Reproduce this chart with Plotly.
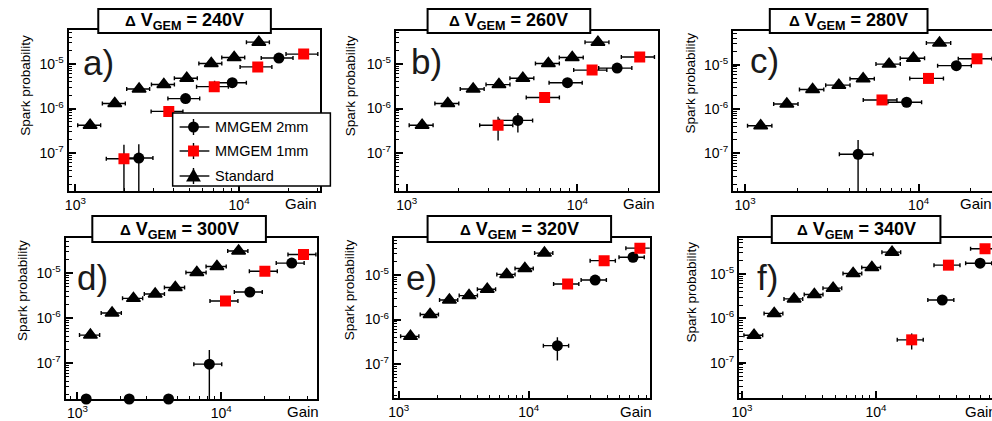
import plotly.graph_objects as go

W, H = 992, 421
FONT = "Liberation Sans, Arial, Helvetica, sans-serif"

# ---------------- data ----------------
PANEL_DV = [240, 260, 280, 300, 320, 340]
PANEL_TAG = ["a)", "b)", "c)", "d)", "e)", "f)"]
SERIES_NAMES = ["MMGEM 2mm", "MMGEM 1mm", "Standard"]

# Standard triple GEM (same in every panel)
STD_GAIN = [1230, 1740, 2450, 3470, 4790, 6760, 9330, 13200]
STD_PROB = [4.2e-7, 1.3e-6, 2.75e-6, 3.45e-6, 4.8e-6, 1.03e-5, 1.4e-5, 3.1e-5]
STD_ERR = [0.4e-7, 0.1e-6, 0.2e-6, 0.25e-6, 0.35e-6, 0.8e-6, 1.1e-6, 2.5e-6]

# a) 240 V
A_2MM_GAIN = [2440, 4710, 9080, 17500]
A_2MM_PROB = [7.7e-8, 1.67e-6, 3.8e-6, 1.36e-5]
A_2MM_ERR = [8.0e-8, 0.2e-6, 0.4e-6, 1.2e-6]
A_1MM_GAIN = [1980, 3720, 7050, 13000, 24800]
A_1MM_PROB = [7.4e-8, 8.6e-7, 3.1e-6, 8.6e-6, 1.67e-5]
A_1MM_ERR = [8.0e-8, 2.2e-7, 0.4e-6, 0.9e-6, 1.5e-6]

# b) 260 V
B_2MM_GAIN = [4480, 8750, 17100]
B_2MM_PROB = [5.4e-7, 3.8e-6, 8.1e-6]
B_2MM_ERR = [2.5e-7, 0.4e-6, 0.8e-6]
B_1MM_GAIN = [3430, 6430, 12200, 23200]
B_1MM_PROB = [4.2e-7, 1.77e-6, 7.3e-6, 1.44e-5]
B_1MM_ERR = [2.3e-7, 0.35e-6, 0.8e-6, 1.3e-6]

# c) 280 V
C_2MM_GAIN = [4480, 8530, 16500]
C_2MM_PROB = [9.5e-8, 1.42e-6, 9.5e-6]
C_2MM_ERR = [1.05e-7, 0.3e-6, 0.9e-6]
C_1MM_GAIN = [6150, 11400, 21700]
C_1MM_PROB = [1.6e-6, 4.9e-6, 1.36e-5]
C_1MM_ERR = [0.3e-6, 0.6e-6, 1.3e-6]

# d) 300 V
D_2MM_GAIN = [8260, 15800, 30900]
D_2MM_PROB = [9.5e-8, 3.8e-6, 1.67e-5]
D_2MM_ERR = [1.0e-7, 0.4e-6, 1.5e-6]
D_2MM_ZERO_GAIN = [1150, 2290, 4300]          # no sparks: drawn on the axis floor
D_2MM_ZERO_PROB = [1.6e-8, 1.6e-8, 1.6e-8]
D_1MM_GAIN = [10700, 20100, 37300]
D_1MM_PROB = [2.4e-6, 1.1e-5, 2.6e-5]
D_1MM_ERR = [0.4e-6, 1.0e-6, 2.2e-6]

# e) 320 V
E_2MM_GAIN = [16600, 32400, 63400]
E_2MM_PROB = [2.6e-7, 7.7e-6, 2.5e-5]
E_2MM_ERR = [1.4e-7, 0.8e-6, 2.2e-6]
E_1MM_GAIN = [19900, 38000, 71600]
E_1MM_PROB = [6.3e-6, 2.1e-5, 4.0e-5]
E_1MM_ERR = [0.8e-6, 2.0e-6, 3.5e-6]

# f) 340 V
F_2MM_GAIN = [31300, 60000]
F_2MM_PROB = [2.6e-6, 1.75e-5]
F_2MM_ERR = [0.4e-6, 1.5e-6]
F_1MM_GAIN = [18500, 34800, 65300]
F_1MM_PROB = [3.3e-7, 1.58e-5, 3.7e-5]
F_1MM_ERR = [1.3e-7, 1.5e-6, 3.2e-6]

PANEL_DATA = [
    (A_2MM_GAIN, A_2MM_PROB, A_2MM_ERR, A_1MM_GAIN, A_1MM_PROB, A_1MM_ERR),
    (B_2MM_GAIN, B_2MM_PROB, B_2MM_ERR, B_1MM_GAIN, B_1MM_PROB, B_1MM_ERR),
    (C_2MM_GAIN, C_2MM_PROB, C_2MM_ERR, C_1MM_GAIN, C_1MM_PROB, C_1MM_ERR),
    (D_2MM_GAIN, D_2MM_PROB, D_2MM_ERR, D_1MM_GAIN, D_1MM_PROB, D_1MM_ERR),
    (E_2MM_GAIN, E_2MM_PROB, E_2MM_ERR, E_1MM_GAIN, E_1MM_PROB, E_1MM_ERR),
    (F_2MM_GAIN, F_2MM_PROB, F_2MM_ERR, F_1MM_GAIN, F_1MM_PROB, F_1MM_ERR),
]

GAIN_REL_ERR_STD = 16   # percent
GAIN_REL_ERR_MM = 22    # percent

X_TICKS = [1e3, 1e4]
X_TICKTEXT = ["10<sup>3</sup>", "10<sup>4</sup>"]
Y_TICKS = [1e-7, 1e-6, 1e-5]
Y_TICKTEXT = ["10<sup>-7</sup>", "10<sup>-6</sup>", "10<sup>-5</sup>"]

# ---------------- geometry (pixels) ----------------
GEOM = [
    dict(frame=(61, 315, 30, 191), xr=(2.958, 4.497), yr=(-7.854, -4.236),
         tbox=(91, 265, 9, 33), tag=(91, 62), ytit=(17, 85), gain=(295, 203), right=True),
    dict(frame=(391, 655, 31, 191), xr=(2.936, 4.471), yr=(-7.854, -4.258),
         tbox=(423, 587, 9, 33), tag=(422, 61), ytit=(345, 86), gain=(636, 203), right=True),
    dict(frame=(731, 992, 31, 191), xr=(2.931, 4.423), yr=(-7.85, -4.24),
         tbox=(768, 927, 9, 33), tag=(763, 60), ytit=(688, 83), gain=(976, 203), right=False),
    dict(frame=(58, 312, 238, 399), xr=(2.917, 4.669), yr=(-7.796, -4.22),
         tbox=(85, 260, 216, 242), tag=(85, 277), ytit=(14, 290), gain=(297, 411), right=True),
    dict(frame=(389, 647, 238, 398), xr=(2.962, 4.931), yr=(-7.76, -4.17),
         tbox=(423, 608, 216, 242), tag=(417, 277), ytit=(344, 290), gain=(633, 411), right=True),
    dict(frame=(737, 992, 238, 398), xr=(2.978, 4.867), yr=(-7.79, -4.19),
         tbox=(770, 940, 216, 243), tag=(766, 277), ytit=(689, 292), gain=(981, 411), right=False),
]


def px(x):
    return x / W


def py(y):
    return 1 - y / H


fig = go.Figure()
shapes = []
annotations = []

ebar_kw = dict(color="black", thickness=1.4)

for i, (g, dv, tag, data) in enumerate(zip(GEOM, PANEL_DV, PANEL_TAG, PANEL_DATA), start=1):
    xa = "x" if i == 1 else f"x{i}"
    ya = "y" if i == 1 else f"y{i}"
    g2, p2, e2, g1, p1, e1 = data

    fig.add_trace(go.Scatter(
        x=STD_GAIN, y=STD_PROB, mode="markers", name=SERIES_NAMES[2], showlegend=False,
        xaxis=xa, yaxis=ya,
        marker=dict(symbol="triangle-up", size=12, color="black",
                    line=dict(color="black", width=1.5)),
        error_x=dict(type="percent", value=GAIN_REL_ERR_STD, width=2, **ebar_kw),
        error_y=dict(type="data", array=STD_ERR, width=0, **ebar_kw)))
    fig.add_trace(go.Scatter(
        x=g2, y=p2, mode="markers", name=SERIES_NAMES[0], showlegend=False,
        xaxis=xa, yaxis=ya,
        marker=dict(symbol="circle", size=11, color="black"),
        error_x=dict(type="percent", value=GAIN_REL_ERR_MM, width=2, **ebar_kw),
        error_y=dict(type="data", array=e2, width=0, **ebar_kw)))
    if i == 4:
        fig.add_trace(go.Scatter(
            x=D_2MM_ZERO_GAIN, y=D_2MM_ZERO_PROB, mode="markers", name=SERIES_NAMES[0],
            showlegend=False, xaxis=xa, yaxis=ya, cliponaxis=False,
            marker=dict(symbol="circle", size=11, color="black")))
    fig.add_trace(go.Scatter(
        x=g1, y=p1, mode="markers", name=SERIES_NAMES[1], showlegend=False,
        xaxis=xa, yaxis=ya,
        marker=dict(symbol="square", size=11, color="#ff0000"),
        error_x=dict(type="percent", value=GAIN_REL_ERR_MM, width=2, **ebar_kw),
        error_y=dict(type="data", array=e1, width=0, **ebar_kw)))

    fx0, fx1, fyt, fyb = g["frame"]
    xminor = [k * 10 ** e for e in (2, 3, 4) for k in range(2, 10)]
    yminor = [k * 10.0 ** e for e in (-8, -7, -6, -5) for k in range(2, 10)]
    axis_common = dict(type="log", showgrid=False, zeroline=False, showline=True,
                       linecolor="black", linewidth=2, ticks="inside", ticklen=7,
                       tickwidth=1.5, tickcolor="black",
                       tickfont=dict(family=FONT, size=14, color="black"))
    fig.layout[f"xaxis{'' if i == 1 else i}"] = dict(
        axis_common, domain=[px(fx0), px(fx1)], range=list(g["xr"]), anchor=ya,
        mirror=True, tickmode="array", tickvals=X_TICKS, ticktext=X_TICKTEXT,
        minor=dict(tickvals=xminor, ticks="inside", ticklen=3.5, tickcolor="black", tickwidth=1.2))
    fig.layout[f"yaxis{'' if i == 1 else i}"] = dict(
        axis_common, domain=[py(fyb), py(fyt)], range=list(g["yr"]), anchor=xa,
        mirror=g["right"], tickmode="array", tickvals=Y_TICKS, ticktext=Y_TICKTEXT,
        minor=dict(tickvals=yminor, ticks="inside", ticklen=3.5, tickcolor="black", tickwidth=1.2))

    # title box
    tx0, tx1, ty0, ty1 = g["tbox"]
    shapes.append(dict(type="rect", xref="paper", yref="paper",
                       x0=px(tx0), x1=px(tx1), y0=py(ty1), y1=py(ty0),
                       fillcolor="white", line=dict(color="black", width=2)))
    annotations.append(dict(xref="paper", yref="paper", x=px((tx0 + tx1) / 2),
                            y=py((ty0 + ty1) / 2 + 1), xanchor="center", yanchor="middle",
                            showarrow=False,
                            text=f"<b><span style='font-size:15px'>\u0394</span> V<sub>GEM</sub> = {dv}V</b>",
                            font=dict(family=FONT, size=18, color="black")))
    # panel tag
    annotations.append(dict(xref="paper", yref="paper", x=px(g["tag"][0]), y=py(g["tag"][1]),
                            xanchor="center", yanchor="middle", showarrow=False, text=tag,
                            font=dict(family=FONT, size=35, color="#1a1a1a")))
    # axis titles
    annotations.append(dict(xref="paper", yref="paper", x=px(g["ytit"][0]), y=py(g["ytit"][1]),
                            xanchor="center", yanchor="middle", showarrow=False, textangle=-90,
                            text="Spark probability",
                            font=dict(family=FONT, size=13.5, color="black")))
    annotations.append(dict(xref="paper", yref="paper", x=px(g["gain"][0]), y=py(g["gain"][1]),
                            xanchor="center", yanchor="middle", showarrow=False, text="Gain",
                            font=dict(family=FONT, size=15, color="black")))

# ---------------- legend (panel a) ----------------
LX0, LX1, LY0, LY1 = 166, 325, 113, 186
shapes.append(dict(type="rect", xref="paper", yref="paper", x0=px(LX0), x1=px(LX1),
                   y0=py(LY1), y1=py(LY0), fillcolor="white",
                   line=dict(color="black", width=1.5)))
rows = [127, 151, 176]
mx = 187
for name, yy, kind in zip(SERIES_NAMES, rows, ["circle", "square", "triangle"]):
    shapes.append(dict(type="line", xref="paper", yref="paper", x0=px(173), x1=px(203),
                       y0=py(yy), y1=py(yy), line=dict(color="black", width=1.4)))
    shapes.append(dict(type="line", xref="paper", yref="paper", x0=px(mx), x1=px(mx),
                       y0=py(yy - 8), y1=py(yy + 8), line=dict(color="black", width=1.4)))
    if kind == "circle":
        shapes.append(dict(type="circle", xref="paper", yref="paper", x0=px(mx - 5.5), x1=px(mx + 5.5),
                           y0=py(yy + 5.5), y1=py(yy - 5.5), fillcolor="black",
                           line=dict(color="black", width=0)))
    elif kind == "square":
        shapes.append(dict(type="rect", xref="paper", yref="paper", x0=px(mx - 5.5), x1=px(mx + 5.5),
                           y0=py(yy + 5.5), y1=py(yy - 5.5), fillcolor="#ff0000",
                           line=dict(color="#ff0000", width=0)))
    else:
        path = (f"M {px(mx - 7.5)},{py(yy + 5.5)} L {px(mx + 7.5)},{py(yy + 5.5)} "
                f"L {px(mx)},{py(yy - 7.5)} Z")
        shapes.append(dict(type="path", xref="paper", yref="paper", path=path,
                           fillcolor="black", line=dict(color="black", width=0)))
    annotations.append(dict(xref="paper", yref="paper", x=px(207), y=py(yy), xanchor="left",
                            yanchor="middle", showarrow=False, text=name,
                            font=dict(family=FONT, size=14.5, color="black")))

fig.update_layout(
    width=W, height=H, margin=dict(l=0, r=0, t=0, b=0),
    paper_bgcolor="white", plot_bgcolor="white", showlegend=False,
    shapes=shapes, annotations=annotations,
)

fig.write_html("out.html")
